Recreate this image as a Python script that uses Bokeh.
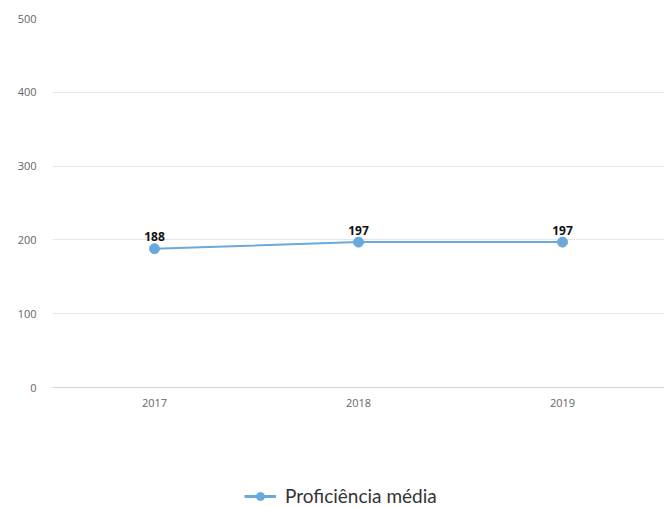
from bokeh.plotting import figure
from bokeh.models import Range1d, Legend, LegendItem, ColumnDataSource, FixedTicker
from bokeh.layouts import column
from bokeh.embed import file_html
from bokeh.resources import INLINE
from bokeh.core.properties import value

years = ["2017", "2018", "2019"]
proficiencia = [188, 197, 197]
labels = [str(v) for v in proficiencia]
y_ticks = [0, 100, 200, 300, 400, 500]
series_name = "Proficiência média"

src = ColumnDataSource(dict(x=years, y=proficiencia, lab=labels))

p = figure(x_range=years, y_range=Range1d(0, 500), width=664, height=420,
           output_backend="svg", toolbar_location=None,
           min_border_left=52, min_border_right=0, min_border_top=18, min_border_bottom=33)
p.outline_line_color = None
p.background_fill_color = "white"
p.border_fill_color = "white"

line_color = "#6aa9dc"
l = p.line("x", "y", source=src, line_color=line_color, line_width=2)
s = p.scatter("x", "y", source=src, size=10, fill_color=line_color, line_color=line_color)
p.text("x", "y", text="lab", source=src, y_offset=-12, text_align="center", text_baseline="middle",
       text_font=value("Open Sans"), text_font_style="bold", text_font_size="12px", text_color="#111111")

p.yaxis.ticker = FixedTicker(ticks=y_ticks)
p.yaxis.axis_line_color = None
p.yaxis.major_tick_line_color = None
p.yaxis.major_tick_out = 0
p.yaxis.minor_tick_line_color = None
p.yaxis.major_label_standoff = 16
p.yaxis.major_label_text_font = "Open Sans"
p.yaxis.major_label_text_font_size = "11px"
p.yaxis.major_label_text_color = "#666666"

p.xaxis.axis_line_color = "#cfd3da"
p.xaxis.major_tick_line_color = None
p.xaxis.major_tick_out = 0
p.xaxis.minor_tick_line_color = None
p.xaxis.major_label_standoff = 11
p.xaxis.major_label_text_font = "Open Sans"
p.xaxis.major_label_text_font_size = "11px"
p.xaxis.major_label_text_color = "#666666"

p.xgrid.grid_line_color = None
p.ygrid.grid_line_color = "#e6e6e6"
p.ygrid.ticker = FixedTicker(ticks=y_ticks)

# legend strip below the chart (its renderers share the data but sit outside its visible range)
p2 = figure(width=664, height=87, x_range=p.x_range, y_range=Range1d(1000, 1001),
            output_backend="svg", toolbar_location=None, x_axis_type=None, y_axis_type=None,
            min_border_left=52, min_border_right=0, min_border_top=0, min_border_bottom=0)
p2.outline_line_color = None
p2.xgrid.grid_line_color = None
p2.ygrid.grid_line_color = None
l2 = p2.line("x", "y", source=src, line_color=line_color, line_width=3)
s2 = p2.scatter("x", "y", source=src, size=12, fill_color=line_color, line_color=line_color)
legend = Legend(items=[LegendItem(label=series_name, renderers=[l2, s2])],
                location=(192, 0), orientation="horizontal",
                padding=0, margin=0, spacing=0,
                glyph_width=32, glyph_height=20, label_height=20, label_standoff=9,
                label_text_font="Lato", label_text_font_size="19px", label_text_color="#333333",
                border_line_color=None, background_fill_alpha=0)
p2.add_layout(legend, "center")

layout = column(p, p2, spacing=0)
open("out.html", "w").write(file_html(layout, INLINE))
